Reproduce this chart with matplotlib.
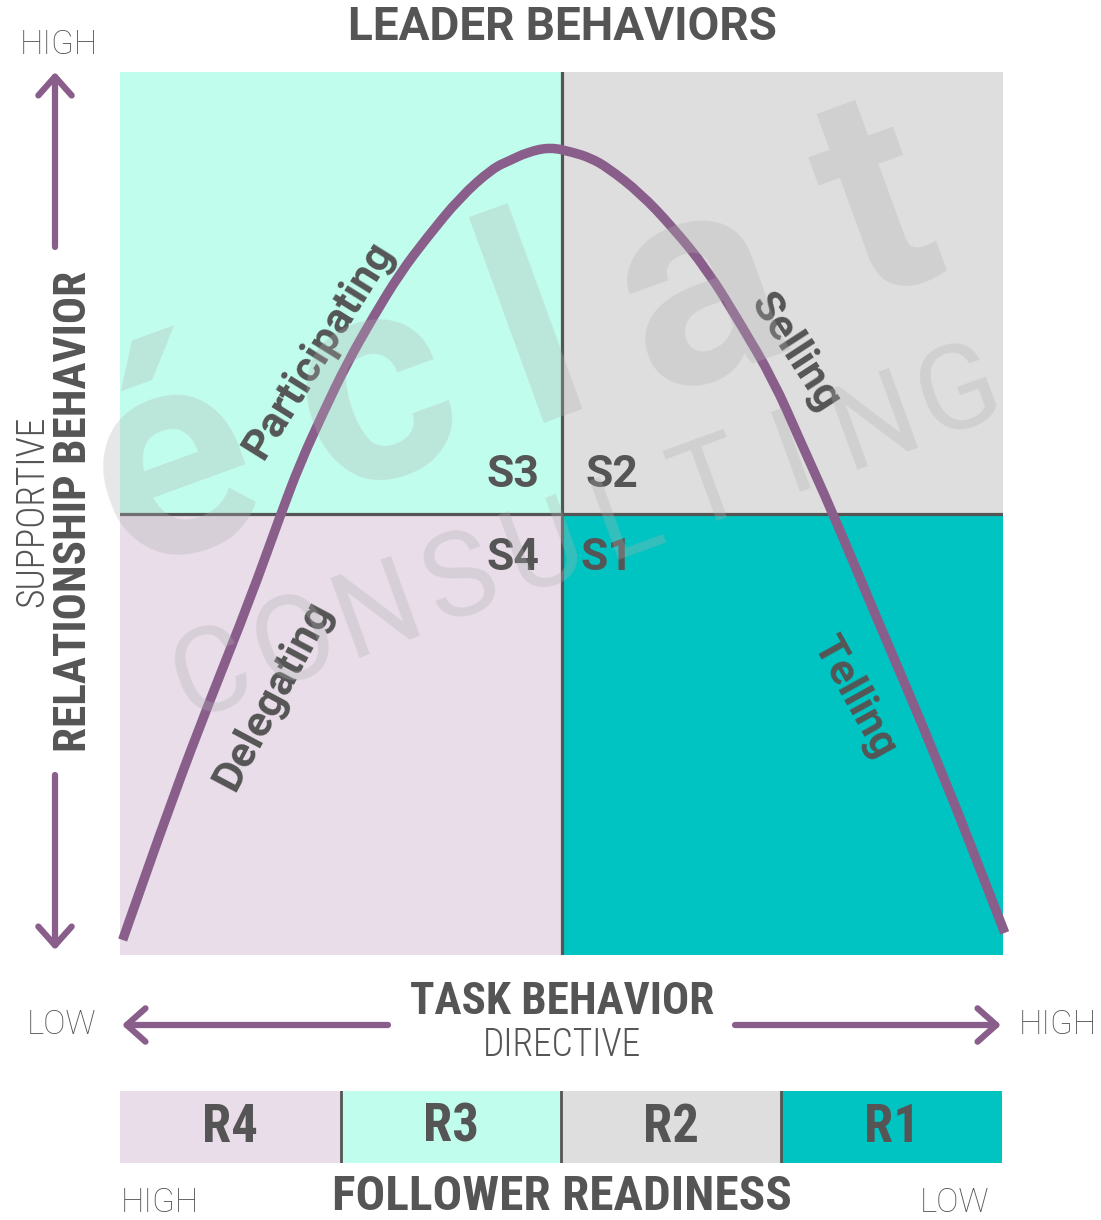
import matplotlib
matplotlib.use('Agg')
import matplotlib.pyplot as plt
from matplotlib import font_manager
from matplotlib.path import Path
from matplotlib.patches import PathPatch
import numpy as np

# situational leadership curve (task %, relationship %)
task = [0.3, 5.9, 10.2, 14.7, 18.2, 20.4, 23.0, 25.7, 28.7, 31.7, 34.8, 38.5, 42.2, 44.2,
        46.1, 48.7, 51.3, 53.2, 55.2, 58.9, 62.6, 66.5, 70.2, 74.0, 77.0, 80.7, 85.3,
        92.9, 100.2]
relation = [1.7, 17.6, 28.9, 40.2, 49.9, 55.7, 61.4, 67.0, 72.3, 77.2, 81.3, 85.8, 89.1,
            90.0, 90.9, 91.5, 90.9, 90.3, 89.2, 86.3, 82.4, 77.6, 71.6, 65.1, 58.3, 50.1,
            39.1, 21.3, 2.5]

quad_labels = ['S3', 'S2', 'S4', 'S1']
quad_x = [0, 50, 0, 50]
quad_y = [50, 50, 0, 0]
quad_colors = ['#c1fded', '#dedede', '#e8dde9', '#00c4c2']

styles = ['Participating', 'Selling', 'Delegating', 'Telling']
style_x = [22.5, 76.4, 17.3, 83.2]
style_y = [68.5, 68.3, 29.4, 29.2]
style_rot = [58, -57, 62, -61]

readiness = ['R4', 'R3', 'R2', 'R1']
readiness_colors = ['#e8dde9', '#c1fded', '#dedede', '#00c4c2']

PURPLE = '#8a5e8b'
DARK = '#555555'


def pick(names):
	for n in names:
		try:
			font_manager.findfont(font_manager.FontProperties(family=n), fallback_to_default=False)
			return n
		except Exception:
			pass
	return 'DejaVu Sans'

SANS = pick(['Roboto', 'Liberation Sans', 'DejaVu Sans'])
COND = pick(['Roboto Condensed', 'Liberation Sans Narrow', 'Roboto'])

W, H = 1101, 1220
fig = plt.figure(figsize=(W / 100, H / 100), dpi=100)

# overlay in pixel coords for the frame texts / arrows
ov = fig.add_axes([0, 0, 1, 1], zorder=0)
ov.set_xlim(0, W)
ov.set_ylim(H, 0)
ov.axis('off')

ax = fig.add_axes([120 / W, (H - 955) / H, 883 / W, 883 / H], zorder=1)
ax.set_xlim(0, 100)
ax.set_ylim(0, 100)
ax.axis('off')

ax.bar(quad_x, 50, width=50, bottom=quad_y, align='edge', color=quad_colors, zorder=0)
ax.axvline(50, color=DARK, lw=2.3, zorder=1)
ax.axhline(50, color=DARK, lw=2.3, zorder=1)

# smooth curve through the read points (quadratic segments between midpoints)
pts = np.column_stack([task, relation])
verts = [pts[0], (pts[0] + pts[1]) / 2]
codes = [Path.MOVETO, Path.LINETO]
for i in range(1, len(pts) - 1):
	verts += [pts[i], (pts[i] + pts[i + 1]) / 2]
	codes += [Path.CURVE3, Path.CURVE3]
verts.append(pts[-1])
codes.append(Path.LINETO)
ax.add_patch(PathPatch(Path(verts, codes), fill=False, edgecolor=PURPLE, lw=6.8,
					   capstyle='butt', joinstyle='round', clip_on=False, zorder=3))

for lab, x, y in zip(quad_labels, [44.5, 55.7, 44.5, 55.2], [54.4, 54.4, 45.0, 45.0]):
	ax.text(x, y, lab, ha='center', va='center', fontsize=32, fontweight='bold',
			family=SANS, color=DARK, zorder=4)

for s, x, y, r in zip(styles, style_x, style_y, style_rot):
	ax.text(x, y, s, ha='center', va='center', rotation=r, rotation_mode='anchor',
			fontsize=31, fontweight='bold', family=SANS, color=DARK, zorder=4)

# readiness bar
axb = fig.add_axes([120 / W, (H - 1163) / H, 882 / W, 72 / H], zorder=1)
axb.bar(range(len(readiness)), 1, width=1, align='edge', color=readiness_colors)
axb.set_xlim(0, len(readiness))
axb.set_ylim(0, 1)
axb.axis('off')
for i in range(1, len(readiness)):
	axb.axvline(i, color=DARK, lw=2)
for i, r in enumerate(readiness):
	axb.text(i + 0.5, 0.5, r, ha='center', va='center', fontsize=38, fontweight='bold',
			 family=COND, color=DARK)

# arrows
arr = dict(arrowstyle='->, head_length=0.45, head_width=0.4', lw=4.5, color=PURPLE,
		   mutation_scale=30, shrinkA=0, shrinkB=0)
ov.annotate('', xy=(55, 72), xytext=(55, 247), arrowprops=arr)
ov.annotate('', xy=(55, 950), xytext=(55, 775), arrowprops=arr)
ov.annotate('', xy=(122, 1025), xytext=(388, 1025), arrowprops=arr)
ov.annotate('', xy=(1001, 1025), xytext=(735, 1025), arrowprops=arr)

ov.text(562, 27, 'LEADER BEHAVIORS', ha='center', va='center', fontsize=33,
		fontweight='bold', family=SANS, color=DARK)
ov.text(33, 511, 'SUPPORTIVE', ha='center', va='center', rotation=90, fontsize=27,
		fontweight='light', family=COND, color=DARK)
ov.text(74, 511, 'RELATIONSHIP BEHAVIOR', ha='center', va='center', rotation=90,
		fontsize=32.5, fontweight='bold', family=COND, color=DARK)
ov.text(562, 1002, 'TASK BEHAVIOR', ha='center', va='center', fontsize=32.5,
		fontweight='bold', family=COND, color=DARK)
ov.text(562, 1045, 'DIRECTIVE', ha='center', va='center', fontsize=27,
		fontweight='light', family=COND, color=DARK)
ov.text(562, 1197, 'FOLLOWER READINESS', ha='center', va='center', fontsize=35.5,
		fontweight='bold', family=COND, color=DARK)
for s, x, y in [('HIGH', 59, 45), ('LOW', 62, 1025), ('HIGH', 1058, 1025),
				('HIGH', 160, 1203), ('LOW', 955, 1203)]:
	ov.text(x, y, s, ha='center', va='center', fontsize=24, fontweight='light',
			family=SANS, color=DARK)

# watermark, on top of everything
wm = fig.add_axes([0, 0, 1, 1], zorder=5)
wm.set_xlim(0, W)
wm.set_ylim(H, 0)
wm.axis('off')
wm.patch.set_alpha(0)
for ch, x, y in zip('éclat', [200, 402, 562, 727, 906], [545, 470, 410, 370, 285]):
	wm.text(x, y, ch, ha='center', va='baseline', rotation=20, rotation_mode='anchor',
			fontsize=210, fontweight='bold', family=SANS, color='#b0b0b0', alpha=0.3)
cx0, cy0 = 212, 676
for i, ch in enumerate('CONSULTING'):
	wm.text(cx0 + i * 83, cy0 - i * 31.4, ch, ha='center', va='center', rotation=20,
			rotation_mode='anchor', fontsize=85, fontweight='normal', family=SANS,
			color='#b0b0b0', alpha=0.3)

fig.savefig('out.png', dpi=100)
